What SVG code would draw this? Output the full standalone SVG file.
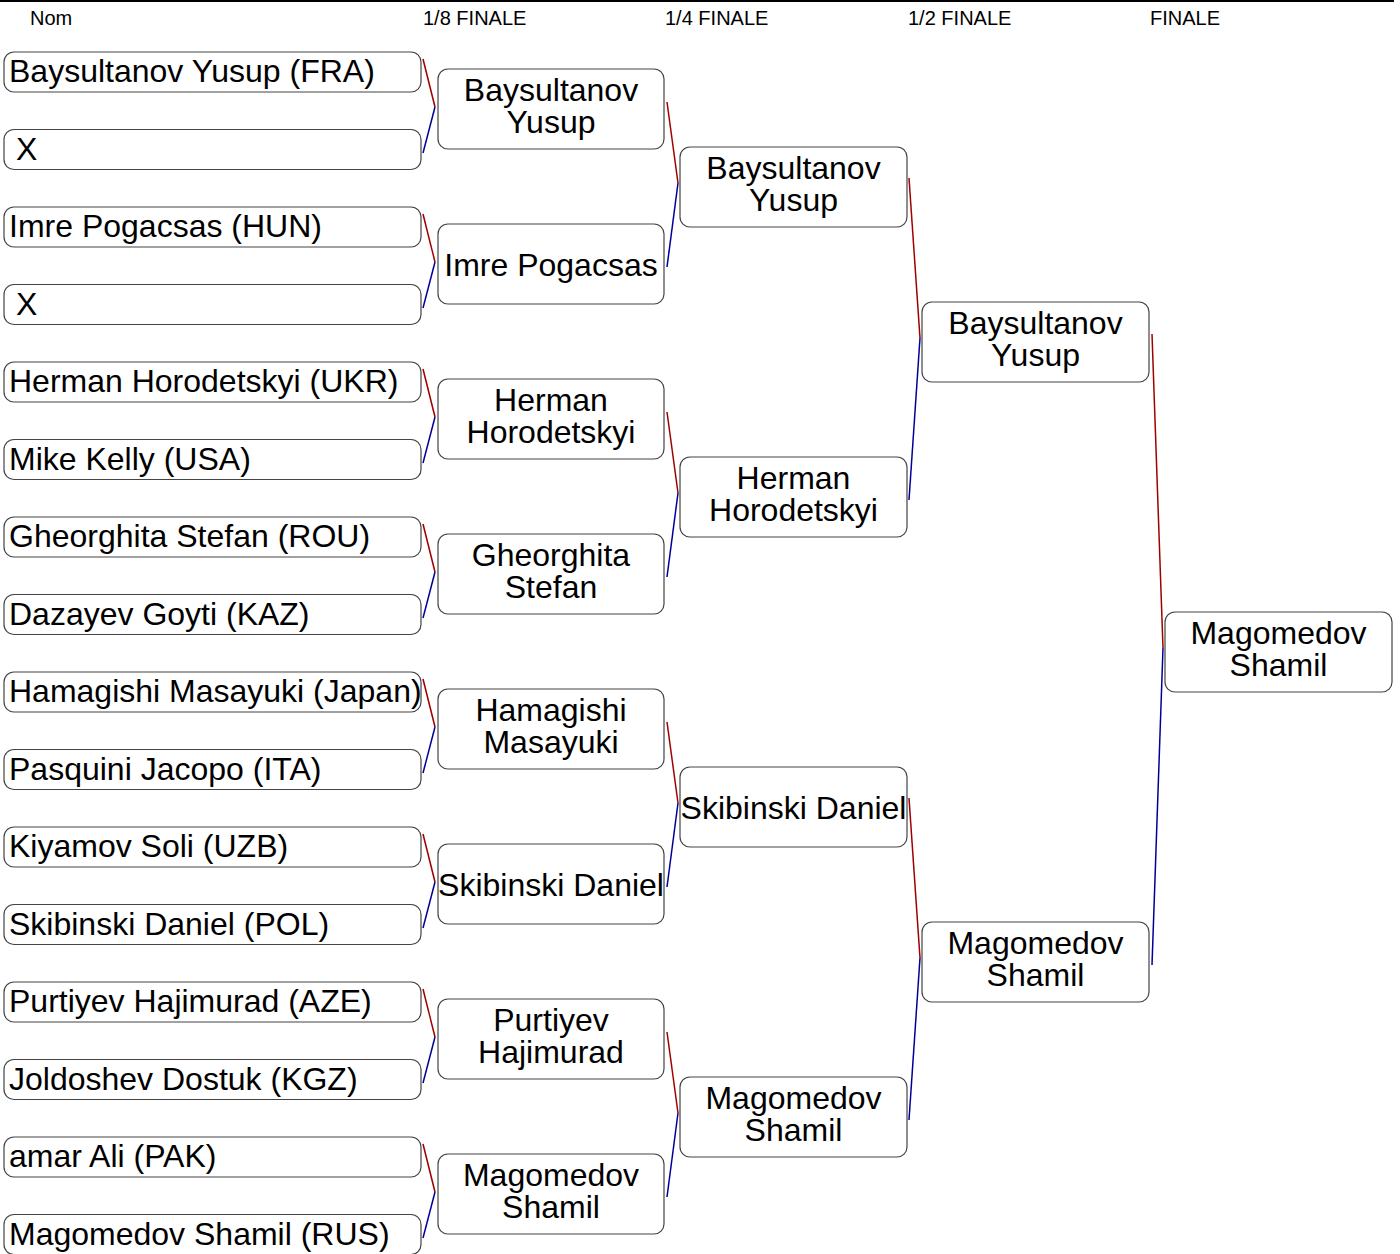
<svg xmlns="http://www.w3.org/2000/svg" width="1400" height="1254" viewBox="0 0 1400 1254">
<style>
.box{fill:#fff;stroke:#444;stroke-width:1.2}
.t{font-family:"Liberation Sans",Arial,sans-serif;font-size:32px;fill:#000}
.c{text-anchor:middle}
.h{font-family:"Liberation Sans",Arial,sans-serif;font-size:20px;fill:#000}
.r{stroke:#a00000;stroke-width:1.5;fill:none}
.b{stroke:#000099;stroke-width:1.5;fill:none}
</style>
<rect width="1400" height="1254" fill="#fff"/>
<g id="header">
<line x1="0" y1="1" x2="1394" y2="1" stroke="#000" stroke-width="2"/>
<text class="h" x="30" y="25">Nom</text>
<text class="h" x="423" y="25">1/8 FINALE</text>
<text class="h" x="665" y="25">1/4 FINALE</text>
<text class="h" x="908" y="25">1/2 FINALE</text>
<text class="h" x="1150" y="25">FINALE</text>
</g>
<g id="connectors">
<polyline class="r" points="423,59 435,107"/><polyline class="b" points="435,107 423,153"/>
<polyline class="r" points="423,214 435,262"/><polyline class="b" points="435,262 423,308"/>
<polyline class="r" points="423,369 435,417"/><polyline class="b" points="435,417 423,463"/>
<polyline class="r" points="423,524 435,572"/><polyline class="b" points="435,572 423,618"/>
<polyline class="r" points="423,679 435,727"/><polyline class="b" points="435,727 423,773"/>
<polyline class="r" points="423,834 435,882"/><polyline class="b" points="435,882 423,928"/>
<polyline class="r" points="423,989 435,1037"/><polyline class="b" points="435,1037 423,1083"/>
<polyline class="r" points="423,1144 435,1192"/><polyline class="b" points="435,1192 423,1238"/>
<polyline class="r" points="667,102 678,183"/><polyline class="b" points="678,183 667,267"/>
<polyline class="r" points="667,412 678,493"/><polyline class="b" points="678,493 667,577"/>
<polyline class="r" points="667,722 678,803"/><polyline class="b" points="678,803 667,887"/>
<polyline class="r" points="667,1032 678,1113"/><polyline class="b" points="678,1113 667,1197"/>
<polyline class="r" points="909,178 920,338"/><polyline class="b" points="920,338 909,500"/>
<polyline class="r" points="909,798 920,958"/><polyline class="b" points="920,958 909,1120"/>
<polyline class="r" points="1152,334 1163,648"/><polyline class="b" points="1163,648 1152,965"/>
</g>
<g id="r1-0"><rect class="box" x="4" y="52" width="417" height="40" rx="10"/><text class="t" x="9" y="82">Baysultanov Yusup (FRA)</text></g>
<g id="r1-1"><rect class="box" x="4" y="129.5" width="417" height="40" rx="10"/><text class="t" x="16" y="159.5">X</text></g>
<g id="r1-2"><rect class="box" x="4" y="207" width="417" height="40" rx="10"/><text class="t" x="9" y="237">Imre Pogacsas (HUN)</text></g>
<g id="r1-3"><rect class="box" x="4" y="284.5" width="417" height="40" rx="10"/><text class="t" x="16" y="314.5">X</text></g>
<g id="r1-4"><rect class="box" x="4" y="362" width="417" height="40" rx="10"/><text class="t" x="9" y="392">Herman Horodetskyi (UKR)</text></g>
<g id="r1-5"><rect class="box" x="4" y="439.5" width="417" height="40" rx="10"/><text class="t" x="9" y="469.5">Mike Kelly (USA)</text></g>
<g id="r1-6"><rect class="box" x="4" y="517" width="417" height="40" rx="10"/><text class="t" x="9" y="547">Gheorghita Stefan (ROU)</text></g>
<g id="r1-7"><rect class="box" x="4" y="594.5" width="417" height="40" rx="10"/><text class="t" x="9" y="624.5">Dazayev Goyti (KAZ)</text></g>
<g id="r1-8"><rect class="box" x="4" y="672" width="417" height="40" rx="10"/><text class="t" x="9" y="702">Hamagishi Masayuki (Japan)</text></g>
<g id="r1-9"><rect class="box" x="4" y="749.5" width="417" height="40" rx="10"/><text class="t" x="9" y="779.5">Pasquini Jacopo (ITA)</text></g>
<g id="r1-10"><rect class="box" x="4" y="827" width="417" height="40" rx="10"/><text class="t" x="9" y="857">Kiyamov Soli (UZB)</text></g>
<g id="r1-11"><rect class="box" x="4" y="904.5" width="417" height="40" rx="10"/><text class="t" x="9" y="934.5">Skibinski Daniel (POL)</text></g>
<g id="r1-12"><rect class="box" x="4" y="982" width="417" height="40" rx="10"/><text class="t" x="9" y="1012">Purtiyev Hajimurad (AZE)</text></g>
<g id="r1-13"><rect class="box" x="4" y="1059.5" width="417" height="40" rx="10"/><text class="t" x="9" y="1089.5">Joldoshev Dostuk (KGZ)</text></g>
<g id="r1-14"><rect class="box" x="4" y="1137" width="417" height="40" rx="10"/><text class="t" x="9" y="1167">amar Ali (PAK)</text></g>
<g id="r1-15"><rect class="box" x="4" y="1214.5" width="417" height="40" rx="10"/><text class="t" x="9" y="1244.5">Magomedov Shamil (RUS)</text></g>

<g id="r2-0"><rect class="box" x="438" y="69" width="226" height="80" rx="10"/><text class="t c" x="551" y="101">Baysultanov</text><text class="t c" x="551" y="133">Yusup</text></g>
<g id="r2-1"><rect class="box" x="438" y="224" width="226" height="80" rx="10"/><text class="t c" x="551" y="276">Imre Pogacsas</text></g>
<g id="r2-2"><rect class="box" x="438" y="379" width="226" height="80" rx="10"/><text class="t c" x="551" y="411">Herman</text><text class="t c" x="551" y="443">Horodetskyi</text></g>
<g id="r2-3"><rect class="box" x="438" y="534" width="226" height="80" rx="10"/><text class="t c" x="551" y="566">Gheorghita</text><text class="t c" x="551" y="598">Stefan</text></g>
<g id="r2-4"><rect class="box" x="438" y="689" width="226" height="80" rx="10"/><text class="t c" x="551" y="721">Hamagishi</text><text class="t c" x="551" y="753">Masayuki</text></g>
<g id="r2-5"><rect class="box" x="438" y="844" width="226" height="80" rx="10"/><text class="t c" x="551" y="896">Skibinski Daniel</text></g>
<g id="r2-6"><rect class="box" x="438" y="999" width="226" height="80" rx="10"/><text class="t c" x="551" y="1031">Purtiyev</text><text class="t c" x="551" y="1063">Hajimurad</text></g>
<g id="r2-7"><rect class="box" x="438" y="1154" width="226" height="80" rx="10"/><text class="t c" x="551" y="1186">Magomedov</text><text class="t c" x="551" y="1218">Shamil</text></g>

<g id="r3-0"><rect class="box" x="680" y="147" width="227" height="80" rx="10"/><text class="t c" x="793.5" y="179">Baysultanov</text><text class="t c" x="793.5" y="211">Yusup</text></g>
<g id="r3-1"><rect class="box" x="680" y="457" width="227" height="80" rx="10"/><text class="t c" x="793.5" y="489">Herman</text><text class="t c" x="793.5" y="521">Horodetskyi</text></g>
<g id="r3-2"><rect class="box" x="680" y="767" width="227" height="80" rx="10"/><text class="t c" x="793.5" y="819">Skibinski Daniel</text></g>
<g id="r3-3"><rect class="box" x="680" y="1077" width="227" height="80" rx="10"/><text class="t c" x="793.5" y="1109">Magomedov</text><text class="t c" x="793.5" y="1141">Shamil</text></g>

<g id="r4-0"><rect class="box" x="922" y="302" width="227" height="80" rx="10"/><text class="t c" x="1035.5" y="334">Baysultanov</text><text class="t c" x="1035.5" y="366">Yusup</text></g>
<g id="r4-1"><rect class="box" x="922" y="922" width="227" height="80" rx="10"/><text class="t c" x="1035.5" y="954">Magomedov</text><text class="t c" x="1035.5" y="986">Shamil</text></g>

<g id="final"><rect class="box" x="1165" y="612" width="227" height="80" rx="10"/><text class="t c" x="1278.5" y="644">Magomedov</text><text class="t c" x="1278.5" y="676">Shamil</text></g>
</svg>
